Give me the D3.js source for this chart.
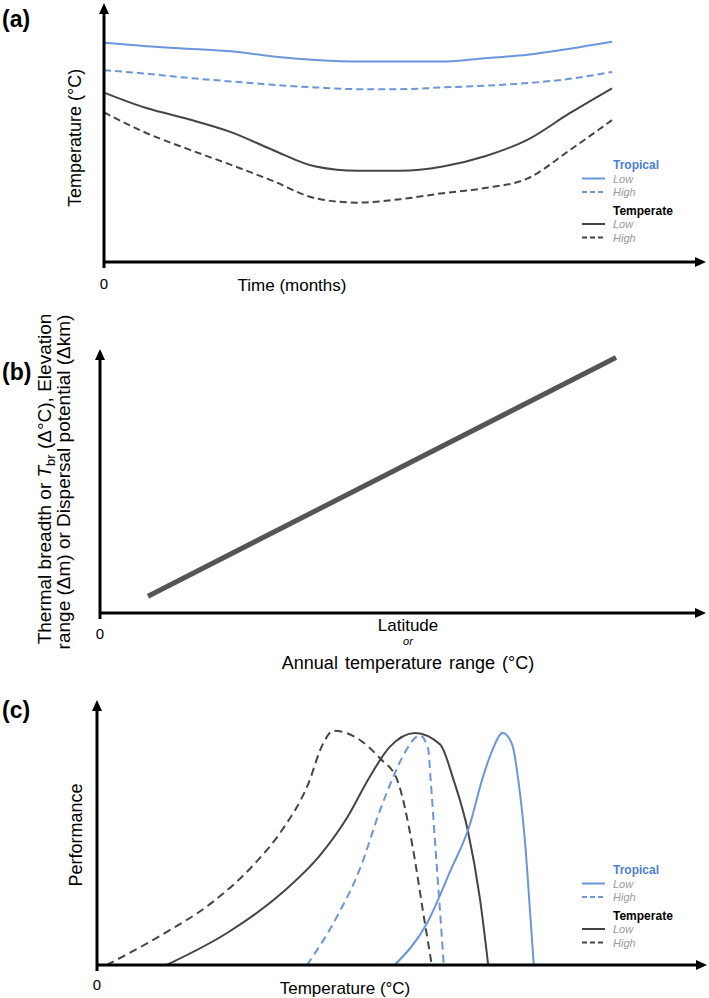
<!DOCTYPE html>
<html>
<head>
<meta charset="utf-8">
<script src="https://cdn.jsdelivr.net/npm/d3@7"></script>
<style>
  html, body { margin: 0; padding: 0; background: #fff; }
  svg { display: block; font-family: "Liberation Sans", Arial, Helvetica, sans-serif; }
</style>
</head>
<body>
<svg id="chart" width="709" height="998"></svg>
<script>
// ---------- Panel (a): temperature over time ----------
const months = [0, 1, 2, 3, 4, 5, 6, 7, 8, 9, 10, 11, 12];
const tropicalLow  = [25.5, 25.1, 24.8, 24.5, 23.9, 23.5, 23.3, 23.3, 23.3, 23.7, 24.1, 24.8, 25.6];
const tropicalHigh = [22.3, 21.9, 21.4, 21.0, 20.6, 20.3, 20.1, 20.1, 20.3, 20.5, 20.8, 21.3, 22.1];
const temperateLow = [19.7, 17.9, 16.6, 15.1, 13.0, 11.1, 10.6, 10.6, 11.1, 12.3, 14.2, 17.3, 20.2];
const temperateHigh= [17.4, 15.0, 13.1, 11.3, 9.4, 7.4, 6.9, 7.3, 8.0, 8.6, 9.7, 13.0, 16.5];

// ---------- Panel (b): breadth vs latitude ----------
const latitude = [0.8, 8.6];
const breadth  = [0.65, 9.9];

// ---------- Panel (c): thermal performance curves ----------
const tropLowT   = [24.8, 27.5, 29.4, 31.1, 32.1, 32.9, 33.8, 34.6, 35.1, 35.7, 36.1, 36.4];
const tropLowP   = [0, 0.18, 0.40, 0.61, 0.80, 0.92, 1.0, 0.95, 0.80, 0.51, 0.22, 0];
const tropHighT  = [17.5, 19.8, 22.1, 23.4, 24.6, 25.7, 26.9, 27.6, 27.8, 28.2, 28.6, 28.9];
const tropHighP  = [0, 0.19, 0.44, 0.64, 0.80, 0.92, 0.99, 0.93, 0.80, 0.51, 0.22, 0];
const tempLowT   = [5.8, 10.9, 15.4, 18.7, 20.9, 22.6, 24.4, 26.5, 28.6, 29.7, 30.9, 31.9, 32.6];
const tempLowP   = [0, 0.14, 0.31, 0.48, 0.64, 0.80, 0.94, 1.0, 0.95, 0.80, 0.58, 0.29, 0];
const tempHighT  = [0.8, 5.4, 9.6, 13.2, 15.4, 17.6, 18.8, 19.7, 21.9, 23.6, 25.0, 26.3, 27.2, 27.9];
const tempHighP  = [0, 0.13, 0.27, 0.44, 0.58, 0.78, 0.95, 1.01, 0.97, 0.89, 0.80, 0.51, 0.22, 0];

const legendGroups = ["Tropical", "Temperate"];
const legendItems = ["Low", "High"];

const BLUE = "#6b96dc", BLUE_TXT = "#4b7fd6", DARK = "#454545";

const svg = d3.select("#chart");

function arrowAxes(g, x0, y0, xEnd, yTop, yBottomExt) {
  g.append("line").attr("x1", x0).attr("y1", y0).attr("x2", xEnd - 6).attr("y2", y0)
    .attr("stroke", "#000").attr("stroke-width", 3);
  g.append("line").attr("x1", x0).attr("y1", y0 + yBottomExt).attr("x2", x0).attr("y2", yTop + 6)
    .attr("stroke", "#000").attr("stroke-width", 3);
  g.append("path").attr("d", `M${xEnd},${y0} L${xEnd - 11},${y0 - 5} L${xEnd - 11},${y0 + 5} Z`).attr("fill", "#000");
  g.append("path").attr("d", `M${x0},${yTop} L${x0 - 5},${yTop + 11} L${x0 + 5},${yTop + 11} Z`).attr("fill", "#000");
}

function legend(g, x, y) {
  const colors = [BLUE, DARK];
  const tcol = [BLUE_TXT, "#000"];
  legendGroups.forEach((name, gi) => {
    const gy = y + gi * 45.5;
    g.append("text").attr("x", x + 31).attr("y", gy).attr("font-size", 12).attr("font-weight", "bold")
      .attr("fill", tcol[gi]).text(name);
    legendItems.forEach((it, ii) => {
      const iy = gy + 13.5 + ii * 13.5;
      g.append("line").attr("x1", x).attr("x2", x + 23).attr("y1", iy - 4).attr("y2", iy - 4)
        .attr("stroke", colors[gi]).attr("stroke-width", 2)
        .attr("stroke-dasharray", ii === 1 ? "5,3" : null);
      g.append("text").attr("x", x + 31).attr("y", iy).attr("font-size", 11).attr("font-style", "italic")
        .attr("fill", "#9a9a9a").text(it);
    });
  });
}

// ---------------- Panel (a) ----------------
{
  const g = svg.append("g");
  const x = d3.scaleLinear().domain([0, 12]).range([104, 612]);
  const y = d3.scaleLinear().domain([0, 30]).range([262, 4]);
  const line = d3.line().x(d => x(d[0])).y(d => y(d[1])).curve(d3.curveMonotoneX);
  const series = [
    { v: tropicalLow, c: BLUE, dash: null },
    { v: tropicalHigh, c: BLUE, dash: "7,4" },
    { v: temperateLow, c: DARK, dash: null },
    { v: temperateHigh, c: DARK, dash: "7,4" }
  ];
  series.forEach(s => {
    g.append("path").attr("d", line(months.map((m, i) => [m, s.v[i]])))
      .attr("fill", "none").attr("stroke", s.c).attr("stroke-width", 2)
      .attr("stroke-dasharray", s.dash);
  });
  arrowAxes(g, x(0), y(0), 706, 3, 6);
  g.append("text").attr("x", 2).attr("y", 27).attr("font-size", 23).attr("font-weight", "bold").text("(a)");
  g.append("text").attr("x", x(0)).attr("y", 289).attr("text-anchor", "middle").attr("font-size", 15).text("0");
  g.append("text").attr("x", 292).attr("y", 291).attr("text-anchor", "middle").attr("font-size", 17).text("Time (months)");
  g.append("text").attr("transform", "translate(81,138) rotate(-90)").attr("text-anchor", "middle")
    .attr("font-size", 18).text("Temperature (°C)");
  legend(g, 582, 169);
}

// ---------------- Panel (b) ----------------
{
  const g = svg.append("g");
  const x = d3.scaleLinear().domain([0, 10]).range([100, 700]);
  const y = d3.scaleLinear().domain([0, 10]).range([613, 355]);
  const line = d3.line().x(d => x(d[0])).y(d => y(d[1]));
  g.append("path").attr("d", line(latitude.map((l, i) => [l, breadth[i]])))
    .attr("fill", "none").attr("stroke", "#555").attr("stroke-width", 5);
  arrowAxes(g, x(0), y(0), 706, 349, 6);
  g.append("text").attr("x", 2).attr("y", 380).attr("font-size", 23).attr("font-weight", "bold").text("(b)");
  g.append("text").attr("x", x(0)).attr("y", 639).attr("text-anchor", "middle").attr("font-size", 15).text("0");
  g.append("text").attr("x", 408).attr("y", 631).attr("text-anchor", "middle").attr("font-size", 17).text("Latitude");
  g.append("text").attr("x", 408).attr("y", 645).attr("text-anchor", "middle").attr("font-size", 11).attr("font-style", "italic").text("or");
  g.append("text").attr("x", 408).attr("y", 669).attr("text-anchor", "middle").attr("font-size", 18)
    .attr("word-spacing", 2).text("Annual temperature range (°C)");
  const t1 = g.append("text").attr("transform", "translate(51,479) rotate(-90)").attr("text-anchor", "middle").attr("font-size", 19);
  t1.append("tspan").text("Thermal breadth or ");
  t1.append("tspan").attr("font-style", "italic").text("T");
  t1.append("tspan").attr("font-size", 13).attr("dy", 4).text("br");
  t1.append("tspan").attr("dy", -4).text("  (Δ°C), Elevation");
  g.append("text").attr("transform", "translate(70,482) rotate(-90)").attr("text-anchor", "middle").attr("font-size", 19)
    .text("range (Δm) or Dispersal potential (Δkm)");
}

// ---------------- Panel (c) ----------------
{
  const g = svg.append("g");
  const x = d3.scaleLinear().domain([0, 50]).range([97, 697]);
  const y = d3.scaleLinear().domain([0, 1]).range([965, 733]);
  const line = d3.line().x(d => x(d[0])).y(d => y(d[1])).curve(d3.curveMonotoneX);
  const series = [
    { t: tempHighT, p: tempHighP, c: DARK, dash: "8,5" },
    { t: tempLowT, p: tempLowP, c: DARK, dash: null },
    { t: tropHighT, p: tropHighP, c: BLUE, dash: "8,5" },
    { t: tropLowT, p: tropLowP, c: BLUE, dash: null }
  ];
  series.forEach(s => {
    g.append("path").attr("d", line(s.t.map((t, i) => [t, s.p[i]])))
      .attr("fill", "none").attr("stroke", s.c).attr("stroke-width", 2)
      .attr("stroke-dasharray", s.dash);
  });
  arrowAxes(g, x(0), y(0), 707, 700, 6);
  g.append("text").attr("x", 2).attr("y", 718).attr("font-size", 23).attr("font-weight", "bold").text("(c)");
  g.append("text").attr("x", x(0)).attr("y", 990).attr("text-anchor", "middle").attr("font-size", 15).text("0");
  g.append("text").attr("x", 345).attr("y", 994).attr("text-anchor", "middle").attr("font-size", 17).text("Temperature (°C)");
  g.append("text").attr("transform", "translate(82,835) rotate(-90)").attr("text-anchor", "middle")
    .attr("font-size", 18).text("Performance");
  legend(g, 582, 874);
}
</script>
</body>
</html>
